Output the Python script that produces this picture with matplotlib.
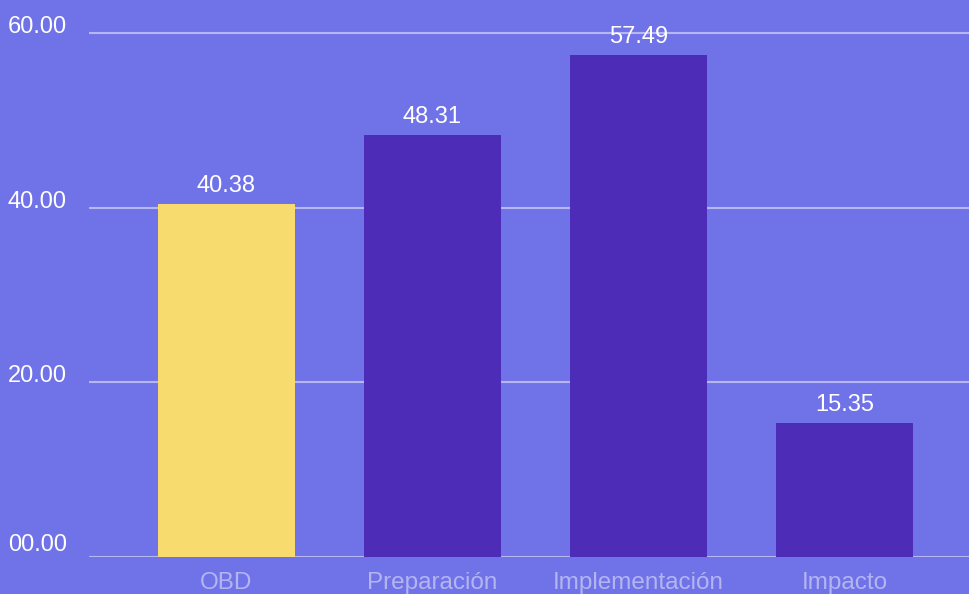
import matplotlib.pyplot as plt

plt.rcParams['font.family'] = ['Liberation Sans', 'DejaVu Sans']

# Data
categories = ["OBD", "Preparación", "Implementación", "Impacto"]
values = [40.38, 48.31, 57.49, 15.35]
bar_colors = ["#F7DB6E", "#4D2DB8", "#4D2DB8", "#4D2DB8"]
y_ticks = [0, 20, 40, 60]
y_tick_labels = ["00.00", "20.00", "40.00", "60.00"]

bg = "#7073E8"
grid_color = "#B6B7F0"
xlabel_color = "#B4B5F0"

fig = plt.figure(figsize=(9.7, 5.94), dpi=100, facecolor=bg)
ax = fig.add_axes([89 / 970, 37 / 594, 1 - 89 / 970, 1 - 37 / 594])
ax.set_facecolor(bg)

x = list(range(len(categories)))
ax.bar(x, values, width=0.665, color=bar_colors, zorder=2)

ax.set_xlim(-0.667, 3.61)
ax.set_ylim(0, 63.78)

for t in y_ticks:
    ax.axhline(t, color=grid_color, lw=1.5, zorder=1)

# value labels
for xi, v in zip(x, values):
    ax.annotate(f"{v:.2f}", (xi, v), xytext=(0, 12), textcoords="offset pixels",
                ha="center", va="baseline", color="white", fontsize=17, zorder=3)

# y labels drawn at the far left, sitting on the gridlines
ax.set_yticks([])
for t, lab in zip(y_ticks, y_tick_labels):
    off = 6 if t == 0 else 0
    ax.annotate(lab, xy=(8, t), xycoords=("figure pixels", "data"),
                xytext=(0, off), textcoords="offset pixels",
                ha="left", va="baseline", color="white", fontsize=17)

ax.set_xticks(x)
ax.set_xticklabels(categories, color=xlabel_color, fontsize=17.5)
ax.tick_params(axis="x", length=0, pad=10.5)

for s in ax.spines.values():
    s.set_visible(False)

fig.savefig("out.png", dpi=100, facecolor=bg)
